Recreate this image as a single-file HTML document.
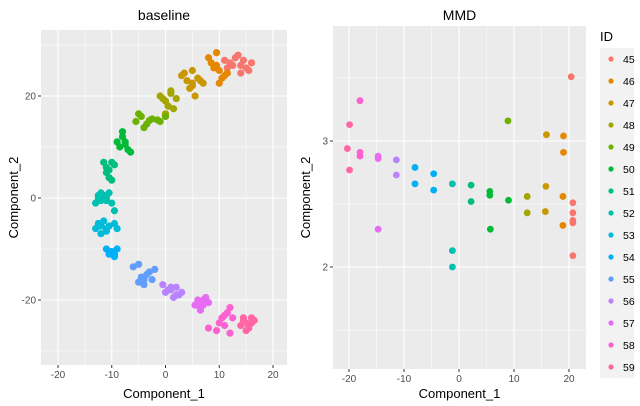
<!DOCTYPE html>
<html><head><meta charset="utf-8">
<style>
body{margin:0;background:#fff;}
svg{display:block;font-family:"Liberation Sans",Arial,sans-serif;}
</style></head>
<body>
<svg id="chart" width="640" height="406" viewBox="0 0 640 406"></svg>
<script>
const ids=["45","46","47","48","49","50","51","52","53","54","55","56","57","58","59"];
const colors=["#F8766D","#E58700","#C99800","#A3A500","#6BB100","#00BA38","#00BF7D","#00C0AF","#00BCD8","#00B0F6","#619CFF","#B983FF","#E76BF3","#FD61D1","#FF67A4"];
const xTicks=[-20,-10,0,10,20];
const yTicksBase=[-20,0,20];
const yTicksMMD=[2,3];
// baseline points [x,y] per ID
const baseX=[
[11,12,13,14,15,16,12.5,14.5,15.5,13.5,11.5,14],
[8,8.5,9.5,10,11,10.5,9,11.5,10,9.5],
[3,4,5,6,7,5.5,4.5,6.5,5,3.5,5],
[-1,0,1,2,0.5,-0.5,1.5,1,0],
[-5.5,-4.5,-3.5,-2.5,-1,0,-4,-3,-1.5,-5],
[-9,-8.5,-8,-7.5,-7,-6.5,-8,-7.5],
[-11.5,-11,-10.5,-10,-9.5,-10.5,-10,-11],
[-13,-12.5,-12,-11.5,-11,-10.5,-10,-9.5,-12,-11,-12.5],
[-13,-12.5,-12,-11.5,-11,-10.5,-9.5,-9,-12,-11],
[-11,-10.5,-10,-9.5,-9,-10,-10.5,-9.5],
[-6,-5,-4.5,-4,-3.5,-3,-2,-5,-4,-2.5],
[-0.5,0,1,1.5,2,2.5,3,1,2,0.5],
[5.5,6,6.5,7,7.5,8,6.5,7,6],
[8,9.5,10,10.5,11,11.5,12,12.5,12,11],
[14,14.5,15,15.5,16,16.5,15,14.5,15.5,16]
];
const baseY=[
[27,26.5,27.5,26,25.5,26.5,26,27,25,28,25.5,24.5],
[27.5,26.5,28.5,25,24,23.5,25.5,24.5,22.5,26],
[24,23,22.5,23.5,22.5,20,21.5,23,25,24.5,22],
[20,19,20.5,19.5,18,19.5,17.5,21,16.5],
[15,16,14.5,15.5,15,16,13.8,15.2,15.3,16.5],
[11,10,12,11,9.5,9,13,10.5],
[7,6,5.5,7,6.5,4,3.5,5],
[-1,0,1,0.5,-0.5,1,-1,-2.5,-0.5,0,0.5],
[-6,-5,-7,-4.5,-6.5,-5.5,-5,-6,-5.5,-6],
[-10,-11,-10.5,-11.5,-10,-11,-10.5,-11],
[-13.5,-16.5,-15.5,-17,-15,-14.5,-14,-13,-16,-16],
[-17,-18.5,-18,-19.5,-17.5,-19,-18.5,-17.5,-19,-18],
[-21,-20,-21.5,-20,-19.5,-20.5,-22,-21,-20.8],
[-25.5,-26,-24.5,-23.5,-23,-22.5,-21.5,-23.5,-26.5,-25],
[-25,-23.5,-24.5,-25,-23.5,-24,-26,-24,-25.5,-24.5]
];
// MMD points per ID
const mmdX=[[20.4,20.7,20.7,20.7,20.7,20.7],[19,19,18.9,18.9],[15.9,15.8,15.7],[12.4,12.4],[8.9],[9,5.6,5.6,5.7],[2.2,2.2],[-1.2,-1.2,-1.2],[],[-8,-8,-4.6,-4.6],[],[-11.4,-11.4],[-14.7,-14.7,-14.7],[-18,-18,-18],[-19.9,-20.3,-19.9]];
const mmdY=[[3.51,2.51,2.43,2.37,2.35,2.09],[3.04,2.91,2.56,2.33],[3.05,2.64,2.44],[2.56,2.43],[3.16],[2.53,2.6,2.57,2.3],[2.65,2.52],[2.66,2.13,2.0],[],[2.79,2.66,2.74,2.61],[],[2.85,2.73],[2.88,2.86,2.3],[3.32,2.91,2.88],[3.13,2.94,2.77]];

const NS="http://www.w3.org/2000/svg";
const svg=document.getElementById("chart");
function mk(tag,attrs,parent){const e=document.createElementNS(NS,tag);for(const k in attrs)e.setAttribute(k,attrs[k]);(parent||svg).appendChild(e);return e;}

function panel(cfg){
  const g=mk("g",{});
  
  
  const sx=v=>cfg.x0+(v-cfg.xmin)*(cfg.x1-cfg.x0)/(cfg.xmax-cfg.xmin);
  const sy=v=>cfg.y1-(v-cfg.ymin)*(cfg.y1-cfg.y0)/(cfg.ymax-cfg.ymin);
  const bg=mk("rect",{x:cfg.x0,y:cfg.y0,width:cfg.x1-cfg.x0,height:cfg.y1-cfg.y0,fill:"#EBEBEB"},g);
  
  
  const minorX=[],minorY=[];
  for(let i=0;i<xTicks.length-1;i++)minorX.push((xTicks[i]+xTicks[i+1])/2);
  for(let i=0;i<cfg.yTicks.length-1;i++)minorY.push((cfg.yTicks[i]+cfg.yTicks[i+1])/2);
  cfg.yMinorExtra.forEach(v=>minorY.push(v));
  minorX.forEach(v=>mk("line",{x1:sx(v),x2:sx(v),y1:cfg.y0,y2:cfg.y1,stroke:"#fff","stroke-width":0.5},g));
  minorY.forEach(v=>mk("line",{x1:cfg.x0,x2:cfg.x1,y1:sy(v),y2:sy(v),stroke:"#fff","stroke-width":0.5},g));
  xTicks.forEach(v=>{
    mk("line",{x1:sx(v),x2:sx(v),y1:cfg.y0,y2:cfg.y1,stroke:"#fff","stroke-width":1.1},g);
    mk("line",{x1:sx(v),x2:sx(v),y1:cfg.y1,y2:cfg.y1+3,stroke:"#333","stroke-width":1},g);
    const t=mk("text",{x:sx(v),y:cfg.y1+13,"font-size":10,fill:"#4D4D4D","text-anchor":"middle"},g);
    t.textContent=v;
    
    
  });
  cfg.yTicks.forEach(v=>{
    mk("line",{x1:cfg.x0,x2:cfg.x1,y1:sy(v),y2:sy(v),stroke:"#fff","stroke-width":1.1},g);
    mk("line",{x1:cfg.x0-3,x2:cfg.x0,y1:sy(v),y2:sy(v),stroke:"#333","stroke-width":1},g);
    const t=mk("text",{x:cfg.x0-5,y:sy(v)+3.5,"font-size":10,fill:"#4D4D4D","text-anchor":"end"},g);
    t.textContent=v;
    
    
  });
  cfg.X.forEach((arr,i)=>arr.forEach((xv,j)=>{
    const c=mk("circle",{cx:sx(xv),cy:sy(cfg.Y[i][j]),r:cfg.r,fill:colors[i]},g);
    
    
  }));
  const ti=mk("text",{x:(cfg.x0+cfg.x1)/2,y:20,"font-size":14,fill:"#000","text-anchor":"middle"},g);
  ti.textContent=cfg.title;
  
  
  const xl=mk("text",{x:(cfg.x0+cfg.x1)/2,y:398,"font-size":13,fill:"#000","text-anchor":"middle"},g);
  xl.textContent="Component_1";
  
  
  const yc=(cfg.y0+cfg.y1)/2;
  const yl=mk("text",{x:cfg.ylx,y:yc,"font-size":13,fill:"#000","text-anchor":"middle",transform:`rotate(-90 ${cfg.ylx} ${yc})`},g);
  yl.textContent="Component_2";
  
  
}
panel({name:"baseline-panel",title:"baseline",x0:41,x1:287,y0:30,y1:365,xmin:-20-17/5.375,xmax:20+14/5.375,
  ymin:-20-65/5.1,ymax:20+66/5.1,yTicks:yTicksBase,yMinorExtra:[30,-30],X:baseX,Y:baseY,r:3.6,ylx:18});
panel({name:"mmd-panel",title:"MMD",x0:333,x1:586,y0:26,y1:369,xmin:-20-16/5.5,xmax:20+17/5.5,
  ymin:2-102/126,ymax:3+115/126,yTicks:yTicksMMD,yMinorExtra:[3.5,1.5],X:mmdX,Y:mmdY,r:3.4,ylx:310});
// legend
const lg=mk("g",{});


const lt=mk("text",{x:600,y:41,"font-size":13,fill:"#000"},lg);
lt.textContent="ID";


mk("rect",{x:600,y:48,width:34,height:330,fill:"#F2F2F2"},lg);
ids.forEach((id,i)=>{
  const y=59+i*22;
  const e=mk("g",{},lg);
  
  
  mk("circle",{cx:611,cy:y,r:2.6,fill:colors[i]},e);
  const t=mk("text",{x:623,y:y+4,"font-size":10.5,fill:"#000"},e);
  t.textContent=id;
});
</script>
</body></html>
